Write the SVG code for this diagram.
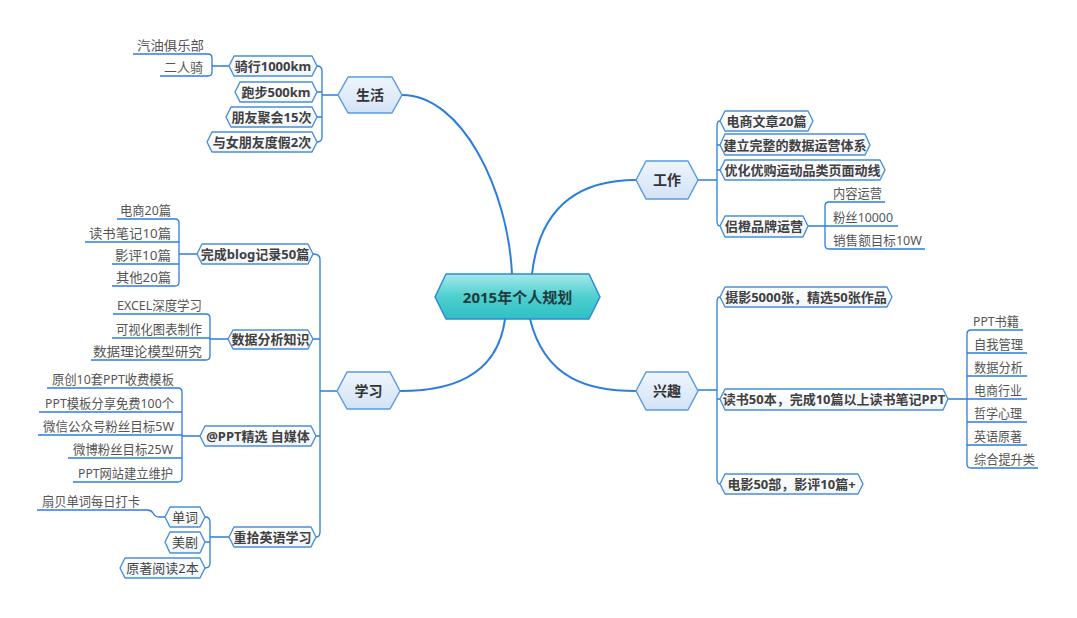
<svg xmlns="http://www.w3.org/2000/svg" width="1077" height="618" viewBox="0 0 1077 618">
<defs>
<linearGradient id="gCenter" x1="0" y1="0" x2="0" y2="1">
<stop offset="0" stop-color="#a6e8e8"/><stop offset="0.5" stop-color="#4fcfd0"/><stop offset="1" stop-color="#2fbfc2"/>
</linearGradient>
<linearGradient id="gMain" x1="0" y1="0" x2="0" y2="1">
<stop offset="0" stop-color="#eef5fd"/><stop offset="1" stop-color="#d3e3f6"/>
</linearGradient>
<linearGradient id="gSub" x1="0" y1="0" x2="0" y2="1">
<stop offset="0" stop-color="#ffffff"/><stop offset="1" stop-color="#f1f5fa"/>
</linearGradient>
</defs>
<style>
text{font-family:"Noto Sans","Noto Sans CJK SC",sans-serif}
.center{fill:url(#gCenter);stroke:#2a8ad8;stroke-width:1.5;stroke-linejoin:round}
.main{fill:url(#gMain);stroke:#5a9be0;stroke-width:1.5;stroke-linejoin:round}
.sub{fill:url(#gSub);stroke:#4a90d9;stroke-width:1.4;stroke-linejoin:round}
.tc{font-size:15px;font-weight:bold;fill:#1f3b3c;text-anchor:middle}
.tm{font-size:14px;font-weight:bold;fill:#333;text-anchor:middle}
.ts{font-size:13px;font-weight:bold;fill:#404040;text-anchor:middle}
.tr{font-size:13px;fill:#444;text-anchor:middle}
.tg{font-size:13px;fill:#555;text-anchor:start}
.cm{fill:none;stroke:#2b7ede;stroke-width:2;stroke-linecap:round}
.cb{fill:none;stroke:#2b7ede;stroke-width:1.3}
</style>
<rect width="1077" height="618" fill="#ffffff"/>
<g id="connectors">
<path class="cm" d="M402,95 C462,95 508,190 512,274"/>
<path class="cm" d="M532,274 C540,205 580,180 636,180"/>
<path class="cm" d="M505,319 C497,380 445,391 400,391"/>
<path class="cm" d="M530,319 C545,380 590,391 636,391"/>
<path class="cb" d="M338,95 H322 M317,66 Q322,66 322,71 V137 Q322,142 317,142 M317,92 H322 M317,117 H322"/>
<path class="cb" d="M133,54 H208 Q212,54 212,58 V72 Q212,76 208,76 H160 M212,66 H229"/>
<path class="cb" d="M337,391 H320 M313,254 Q320,254 320,259 V532 Q320,537 316,537 M313,339 H320 M316,436 H320"/>
<path class="cb" d="M117,219 H175 Q179,219 179,223 V282 Q179,286 175,286 H112 M85,242 H179 M112,264 H179 M179,254 H197"/>
<path class="cb" d="M113,314 H206 Q210,314 210,318 V356 Q210,360 206,360 H91 M112,338 H210 M210,339 H228"/>
<path class="cb" d="M47,388 H178 Q182,388 182,392 V478 Q182,482 178,482 H73 M39,412 H182 M38,435 H182 M68,458 H182 M182,436 H200"/>
<path class="cb" d="M205,517 Q210,517 210,522 V563 Q210,568 205,568 M205,542 H210 M210,537 H229"/>
<path class="cb" d="M37,510 H147 Q151,510 153,513 Q155,517 159,517 H165"/>
<path class="cb" d="M698,180 H717 M720,121 Q717,121 717,126 V221 Q717,226 720,226 M717,145 H720 M717,170 H720"/>
<path class="cb" d="M885,202 H829 Q825,202 825,206 V245 Q825,249 829,249 H925 M825,226 H898 M808,226 H825"/>
<path class="cb" d="M698,390 H717 M720,297 Q717,297 717,302 V479 Q717,484 720,484 M717,399 H720"/>
<path class="cb" d="M1023,330 H971 Q967,330 967,334 V464 Q967,468 971,468 H1038 M967,353 H1027 M967,376 H1027 M967,399 H1027 M967,422 H1027 M967,445 H1027 M948,399 H967"/>
</g>
<g id="center">
<path class="center" d="M435,297 L446,274 L589,274 L600,297 L589,319 L446,319 Z"/>
<text class="tc" x="517.5" y="302.5">2015年个人规划</text>
</g>
<g id="shenghuo">
<path class="main" d="M338,95 L348,77 L392,77 L402,95 L392,113 L348,113 Z"/>
<text class="tm" x="370" y="100">生活</text>
</g>
<g id="gongzuo">
<path class="main" d="M636,180 L646,161 L688,161 L698,180 L688,199 L646,199 Z"/>
<text class="tm" x="667" y="185">工作</text>
</g>
<g id="xuexi">
<path class="main" d="M337,391 L347,372 L390,372 L400,391 L390,409 L347,409 Z"/>
<text class="tm" x="368.5" y="396">学习</text>
</g>
<g id="xingqu">
<path class="main" d="M636,391 L646,372 L688,372 L698,391 L688,410 L646,410 Z"/>
<text class="tm" x="667" y="396">兴趣</text>
</g>
<g id="qixing">
<path class="sub" d="M229,66 L234,56 L312,56 L317,66 L312,76 L234,76 Z"/>
<text class="ts" x="273" y="70.5">骑行1000km</text>
</g>
<g id="qiyou"><text class="tg" x="137" y="50" textLength="67" lengthAdjust="spacingAndGlyphs">汽油俱乐部</text></g>
<g id="erren"><text class="tg" x="164" y="72" textLength="39" lengthAdjust="spacingAndGlyphs">二人骑</text></g>
<g id="paobu">
<path class="sub" d="M235,92 L240,82 L312,82 L317,92 L312,102 L240,102 Z"/>
<text class="ts" x="276" y="96.5">跑步500km</text>
</g>
<g id="pengyou">
<path class="sub" d="M226,117 L231,107 L312,107 L317,117 L312,127 L231,127 Z"/>
<text class="ts" x="271.5" y="121.5">朋友聚会15次</text>
</g>
<g id="dujia">
<path class="sub" d="M207,142 L212,132 L312,132 L317,142 L312,152 L212,152 Z"/>
<text class="ts" x="262" y="146.5">与女朋友度假2次</text>
</g>
<g id="blog">
<path class="sub" d="M197,254 L202,244 L308,244 L313,254 L308,264 L202,264 Z"/>
<text class="ts" x="255" y="258.5">完成blog记录50篇</text>
</g>
<g id="blog1"><text class="tg" x="120" y="215" textLength="51" lengthAdjust="spacingAndGlyphs">电商20篇</text></g>
<g id="blog2"><text class="tg" x="89" y="238" textLength="82" lengthAdjust="spacingAndGlyphs">读书笔记10篇</text></g>
<g id="blog3"><text class="tg" x="115" y="260" textLength="56" lengthAdjust="spacingAndGlyphs">影评10篇</text></g>
<g id="blog4"><text class="tg" x="116" y="282" textLength="55" lengthAdjust="spacingAndGlyphs">其他20篇</text></g>
<g id="shuju">
<path class="sub" d="M228,339 L233,330 L308,330 L313,339 L308,349 L233,349 Z"/>
<text class="ts" x="270.5" y="343.5">数据分析知识</text>
</g>
<g id="shuju1"><text class="tg" x="117" y="310" textLength="85" lengthAdjust="spacingAndGlyphs">EXCEL深度学习</text></g>
<g id="shuju2"><text class="tg" x="116" y="334" textLength="86" lengthAdjust="spacingAndGlyphs">可视化图表制作</text></g>
<g id="shuju3"><text class="tg" x="93" y="356" textLength="109" lengthAdjust="spacingAndGlyphs">数据理论模型研究</text></g>
<g id="zimeiti">
<path class="sub" d="M200,436 L205,426 L311,426 L316,436 L311,446 L205,446 Z"/>
<text class="ts" x="258" y="440.5">@PPT精选 自媒体</text>
</g>
<g id="zm1"><text class="tg" x="52" y="384" textLength="122" lengthAdjust="spacingAndGlyphs">原创10套PPT收费模板</text></g>
<g id="zm2"><text class="tg" x="45" y="408" textLength="129" lengthAdjust="spacingAndGlyphs">PPT模板分享免费100个</text></g>
<g id="zm3"><text class="tg" x="43" y="431" textLength="131" lengthAdjust="spacingAndGlyphs">微信公众号粉丝目标5W</text></g>
<g id="zm4"><text class="tg" x="73" y="454" textLength="100" lengthAdjust="spacingAndGlyphs">微博粉丝目标25W</text></g>
<g id="zm5"><text class="tg" x="78" y="478" textLength="95" lengthAdjust="spacingAndGlyphs">PPT网站建立维护</text></g>
<g id="yingyu">
<path class="sub" d="M229,537 L234,527 L311,527 L316,537 L311,547 L234,547 Z"/>
<text class="ts" x="272.5" y="541.5">重拾英语学习</text>
</g>
<g id="danci">
<path class="sub" d="M165,517 L170,507 L200,507 L205,517 L200,527 L170,527 Z"/>
<text class="tr" x="185" y="521.5">单词</text>
</g>
<g id="shanbei"><text class="tg" x="42" y="506" textLength="98" lengthAdjust="spacingAndGlyphs">扇贝单词每日打卡</text></g>
<g id="meiju">
<path class="sub" d="M165,542 L170,532 L200,532 L205,542 L200,553 L170,553 Z"/>
<text class="tr" x="185" y="546.5">美剧</text>
</g>
<g id="yuanzhu">
<path class="sub" d="M120,568 L125,558 L200,558 L205,568 L200,578 L125,578 Z"/>
<text class="tr" x="162.5" y="572.5">原著阅读2本</text>
</g>
<g id="gz1">
<path class="sub" d="M720,121 L725,111 L808,111 L813,121 L808,131 L725,131 Z"/>
<text class="ts" x="766.5" y="125.5">电商文章20篇</text>
</g>
<g id="gz2">
<path class="sub" d="M720,145 L725,134 L865,134 L870,145 L865,155 L725,155 Z"/>
<text class="ts" x="795" y="149.5">建立完整的数据运营体系</text>
</g>
<g id="gz3">
<path class="sub" d="M720,170 L725,160 L880,160 L885,170 L880,180 L725,180 Z"/>
<text class="ts" x="802.5" y="174.5">优化优购运动品类页面动线</text>
</g>
<g id="gz4">
<path class="sub" d="M720,226 L725,216 L803,216 L808,226 L803,237 L725,237 Z"/>
<text class="ts" x="764" y="230.5">侣橙品牌运营</text>
</g>
<g id="gz4a"><text class="tg" x="833" y="198" textLength="49" lengthAdjust="spacingAndGlyphs">内容运营</text></g>
<g id="gz4b"><text class="tg" x="833" y="222" textLength="60" lengthAdjust="spacingAndGlyphs">粉丝10000</text></g>
<g id="gz4c"><text class="tg" x="833" y="245" textLength="89" lengthAdjust="spacingAndGlyphs">销售额目标10W</text></g>
<g id="xq1">
<path class="sub" d="M720,297 L725,287 L887,287 L892,297 L887,307 L725,307 Z"/>
<text class="ts" x="806" y="301.5">摄影5000张，精选50张作品</text>
</g>
<g id="xq2">
<path class="sub" d="M720,399 L725,389 L943,389 L948,399 L943,410 L725,410 Z"/>
<text class="ts" x="834" y="403.5">读书50本，完成10篇以上读书笔记PPT</text>
</g>
<g id="xq2a"><text class="tg" x="973" y="326" textLength="46" lengthAdjust="spacingAndGlyphs">PPT书籍</text></g>
<g id="xq2b"><text class="tg" x="974" y="349" textLength="49" lengthAdjust="spacingAndGlyphs">自我管理</text></g>
<g id="xq2c"><text class="tg" x="974" y="372" textLength="49" lengthAdjust="spacingAndGlyphs">数据分析</text></g>
<g id="xq2d"><text class="tg" x="974" y="395" textLength="48" lengthAdjust="spacingAndGlyphs">电商行业</text></g>
<g id="xq2e"><text class="tg" x="974" y="418" textLength="48" lengthAdjust="spacingAndGlyphs">哲学心理</text></g>
<g id="xq2f"><text class="tg" x="974" y="441" textLength="48" lengthAdjust="spacingAndGlyphs">英语原著</text></g>
<g id="xq2g"><text class="tg" x="974" y="464" textLength="61" lengthAdjust="spacingAndGlyphs">综合提升类</text></g>
<g id="xq3">
<path class="sub" d="M720,484 L725,474 L858,474 L863,484 L858,494 L725,494 Z"/>
<text class="ts" x="791.5" y="488.5">电影50部，影评10篇+</text>
</g>
</svg>
